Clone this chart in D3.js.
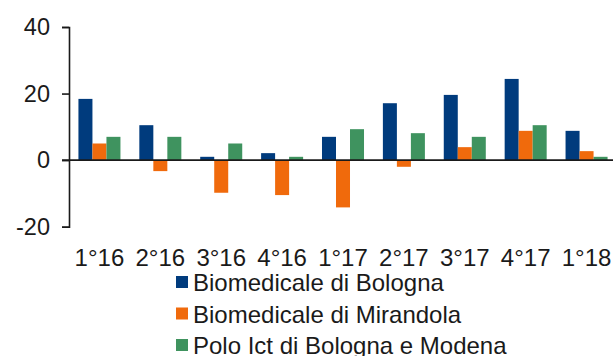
<!DOCTYPE html>
<html>
<head>
<meta charset="utf-8">
<script src="https://cdn.jsdelivr.net/npm/d3@7"></script>
<style>
  body { margin: 0; background: #fff; }
  text { font-family: "Liberation Sans", Arial, sans-serif; fill: #1a1a1a; }
</style>
</head>
<body>
<div id="container"></div>
<script>
const quarters = ["1°16", "2°16", "3°16", "4°16", "1°17", "2°17", "3°17", "4°17", "1°18"];
const seriesNames = ["Biomedicale di Bologna", "Biomedicale di Mirandola", "Polo Ict di Bologna e Modena"];
const bologna = [18.4, 10.5, 1.0, 2.1, 7.0, 17.1, 19.6, 24.4, 8.8];
const mirandola = [5.0, -3.3, -9.8, -10.5, -14.2, -2.0, 3.9, 8.8, 2.7];
const poloIct = [7.0, 7.0, 5.0, 1.0, 9.3, 8.1, 7.0, 10.5, 1.0];
const yTicks = [-20, 0, 20, 40];
const colors = ["#003b7d", "#f06a0c", "#3f935f"];

const w = 613;
const h = 356;
const allSeries = [bologna, mirandola, poloIct];

const svg = d3.select("#container")
  .append("svg")
  .attr("width", w)
  .attr("height", h);

const xScale = d3.scaleBand()
  .domain(quarters)
  .range([69, 617])
  .paddingInner(0.31)
  .paddingOuter(0.155);

const xInner = d3.scaleBand()
  .domain(d3.range(seriesNames.length))
  .range([0, xScale.bandwidth()]);

const yScale = d3.scaleLinear()
  .domain([-20, 40])
  .range([226.7, 27]);

// bars
allSeries.forEach((values, s) => {
  svg.append("g")
    .selectAll("rect")
    .data(values)
    .enter()
    .append("rect")
    .attr("x", (d, i) => xScale(quarters[i]) + xInner(s))
    .attr("y", (d) => yScale(Math.max(0, d)))
    .attr("width", xInner.bandwidth())
    .attr("height", (d) => Math.abs(yScale(d) - yScale(0)))
    .attr("fill", colors[s]);
});

// y axis
const yAxis = d3.axisLeft(yScale)
  .tickValues(yTicks)
  .tickSize(7)
  .tickPadding(12)
  .tickFormat((d) => String(d));

const gy = svg.append("g")
  .attr("transform", "translate(69,0)")
  .call(yAxis);
gy.select(".domain").attr("stroke", "#1a1a1a").attr("stroke-width", 1.6);
gy.selectAll(".tick line").attr("stroke", "#1a1a1a").attr("stroke-width", 1.6);
gy.selectAll(".tick text")
  .style("font-size", "23.5px")
  .attr("fill", "#1a1a1a");

// zero line
svg.append("line")
  .attr("x1", 62)
  .attr("x2", w)
  .attr("y1", yScale(0))
  .attr("y2", yScale(0))
  .attr("stroke", "#1a1a1a")
  .attr("stroke-width", 1.8);

// x labels
svg.append("g")
  .selectAll("text")
  .data(quarters)
  .enter()
  .append("text")
  .attr("x", (d) => xScale(d) + xScale.bandwidth() / 2)
  .attr("y", 266)
  .attr("text-anchor", "middle")
  .style("font-size", "24px")
  .text((d) => d);

// legend
const legend = svg.append("g");
seriesNames.forEach((name, i) => {
  legend.append("rect")
    .attr("x", 176)
    .attr("y", 276 + i * 31.5)
    .attr("width", 12)
    .attr("height", 12)
    .attr("fill", colors[i]);
  legend.append("text")
    .attr("x", 193)
    .attr("y", 291 + i * 31.5)
    .style("font-size", "24px")
    .text(name);
});
</script>
</body>
</html>
